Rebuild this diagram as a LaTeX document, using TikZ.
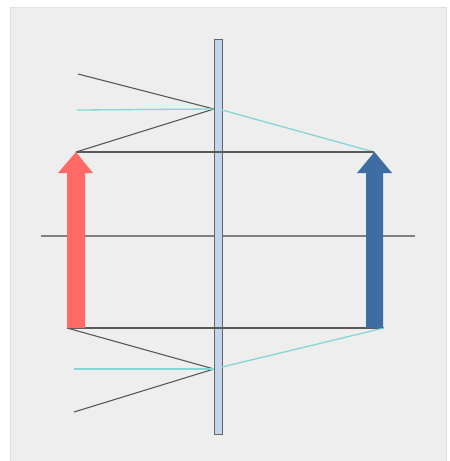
\documentclass[tikz,border=0pt]{standalone}
\begin{document}
\begin{tikzpicture}[x=1pt,y=-1pt]
\definecolor{panel}{HTML}{EEEEEE}
\definecolor{cyanline}{HTML}{86D6D6}
\definecolor{redfill}{HTML}{FF6A66}
\definecolor{bluefill}{HTML}{3D6DA3}
\definecolor{lensfill}{HTML}{C3D5EA}
\tikzset{
  ray/.style={draw=black!65,line width=1.1pt},
  cyanray/.style={draw=cyanline,line width=1.3pt},
  lensbox/.style={draw=black!60,fill=lensfill,line width=0.9pt}}
\useasboundingbox (0,0) rectangle (450,461);
\fill[white] (0,0) rectangle (450,461);
\draw[draw=black!12,fill=panel,line width=0.8pt] (10,7) rectangle (446,464);
% coordinates
\coordinate (axL) at (41,236);
\coordinate (axR) at (415,236);
\coordinate (objTop) at (76,152);
\coordinate (objBot) at (67,328);
\coordinate (imgTop) at (374,152);
\coordinate (imgBot) at (384,328);
\coordinate (lensT) at (214,109);
\coordinate (lensTR) at (222,110);
\coordinate (lensB) at (214,369);
\coordinate (lensBR) at (222,367);
\coordinate (rayA) at (78,74);
\coordinate (rayB) at (77,110);
\coordinate (rayC) at (74,369);
\coordinate (rayD) at (74,412);
% axis
\draw[ray,draw=black!50] (axL) -- (axR);
% lens
\draw[lensbox] (214,39) rectangle (222,434);
% rays
\draw[ray] (rayA) -- (lensT);
\draw[ray] (objTop) -- (lensT);
\draw[cyanray] (rayB) -- (lensT);
\draw[cyanray] (lensTR) -- (imgTop);
\draw[ray] (objTop) -- (imgTop);
\draw[ray] (objBot) -- (imgBot);
\draw[ray] (objBot) -- (lensB);
\draw[ray] (rayD) -- (lensB);
\draw[cyanray] (rayC) -- (lensB);
\draw[cyanray] (lensBR) -- (imgBot);
% arrows
\fill[redfill] (67,328) -- (85,328) -- (85,173) -- (93,173) -- (76,152) -- (58,173) -- (67,173) -- cycle;
\fill[bluefill] (366,328) -- (383,328) -- (383,173) -- (392,173) -- (374.5,152) -- (357,173) -- (366,173) -- cycle;
\end{tikzpicture}
\end{document}
